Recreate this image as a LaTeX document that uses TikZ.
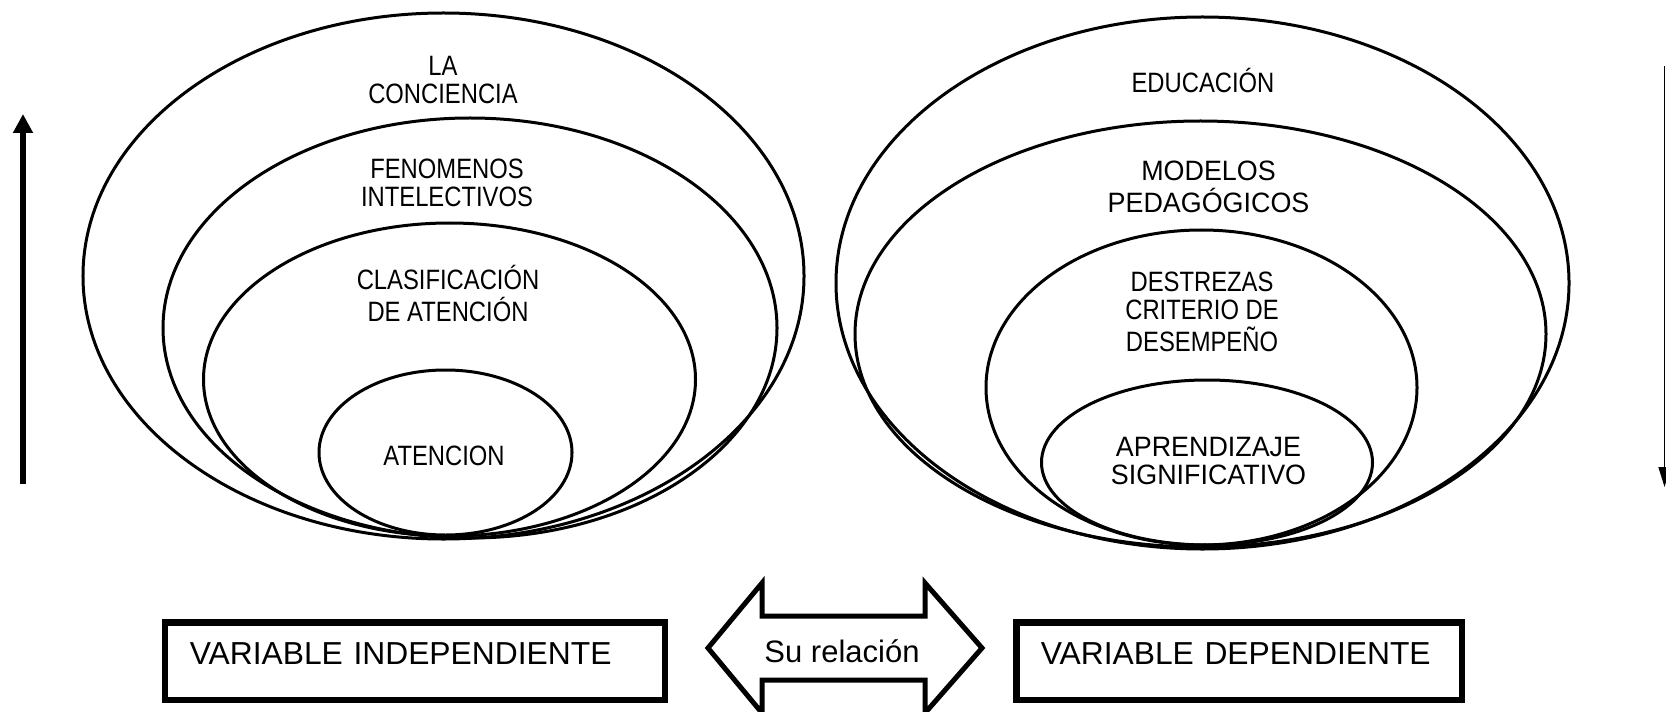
\documentclass[tikz,border=0pt]{standalone}
\usepackage{fontspec}
\setmainfont{Liberation Sans}
\newfontfamily\narrowfont{Liberation Sans}[FakeStretch=0.85]
\newfontfamily\semifont{Liberation Sans}[FakeStretch=0.96]
\usetikzlibrary{arrows.meta}
\newcommand\lblstack[1]{\begin{tabular}[t]{@{}c@{}}#1\end{tabular}}
\begin{document}
\begin{tikzpicture}[x=1bp,y=-1bp,
  ring/.style={line width=3bp},
  lbl/.style={anchor=base, inner sep=0pt, font=\narrowfont\fontsize{28bp}{28bp}\selectfont},
  widelbl/.style={anchor=base, inner sep=0pt, font=\semifont\fontsize{28bp}{28bp}\selectfont},
  varbox/.style={draw, line width=6.5bp, minimum height=77.5bp, inner xsep=24.5bp,
     align=left, text height=22bp, text depth=16bp, font=\fontsize{31.8bp}{36bp}\selectfont},
  relarrow/.style={draw, line width=5bp, line join=miter}
]
\useasboundingbox (0,0) rectangle (1666,712);

% left ellipses
\draw[ring] (443.5,276) ellipse [x radius=360.5bp, y radius=263bp];
\draw[ring] (470,328) ellipse [x radius=307bp, y radius=210bp];
\draw[ring] (449.5,379.5) ellipse [x radius=246bp, y radius=156.5bp];
\draw[ring] (445.5,452.5) ellipse [x radius=126.5bp, y radius=82.5bp];

% right ellipses
\draw[ring] (1202.5,283) ellipse [x radius=366.5bp, y radius=266bp];
\draw[ring] (1200.5,334) ellipse [x radius=345.5bp, y radius=213bp];
\draw[ring] (1201.5,387.5) ellipse [x radius=215.5bp, y radius=157.5bp];
\draw[ring] (1207,462.5) ellipse [x radius=165.5bp, y radius=82.5bp];

% left labels
\node[lbl] (conc) at (443,76) {\lblstack{LA\\CONCIENCIA}};
\node[lbl] (feno) at (447,178) {\lblstack{FENOMENOS\\INTELECTIVOS}};
\node[lbl] (clas) at (448,289) {\lblstack{CLASIFICACIÓN\\DE ATENCIÓN}};
\node[lbl] (aten) at (444,465) {ATENCION};

% right labels
\node[lbl] (educ) at (1203,93) {EDUCACIÓN};
\node[widelbl] (mode) at (1208.5,180) {\lblstack{MODELOS\\PEDAGÓGICOS}};
\node[lbl] (dest) at (1202,291) {\lblstack{DESTREZAS\\CRITERIO DE\\DESEMPEÑO}};
\node[widelbl] (apre) at (1208.5,456) {\lblstack{APRENDIZAJE\\SIGNIFICATIVO}};

% side arrows
\coordinate (la1) at (23,484);
\coordinate (la2) at (23,114);
\draw[line width=6bp, -{Triangle[length=19bp,width=19bp]}] (la1) -- (la2);
\coordinate (ra1) at (1664.5,66);
\coordinate (ra2) at (1664.5,487);
\draw[line width=1.5bp, -{Triangle[length=20bp,width=12bp]}] (ra1) -- (ra2);

% boxes
\node[varbox, minimum width=499.5bp, text width=450.5bp] (vi) at (415,661) {VARIABLE INDEPENDIENTE};
\node[varbox, minimum width=445.5bp, text width=396.5bp] (vd) at (1239,661) {VARIABLE DEPENDIENTE};

% double arrow
\draw[relarrow] (708,648) -- (762,583) -- (762,616) -- (925,616) -- (925,583) -- (982,648)
  -- (925,713) -- (925,680) -- (762,680) -- (762,713) -- cycle;
\node[inner sep=0pt, font=\fontsize{31bp}{36bp}\selectfont] (rel) at (842,651) {Su relación};
\end{tikzpicture}
\end{document}
